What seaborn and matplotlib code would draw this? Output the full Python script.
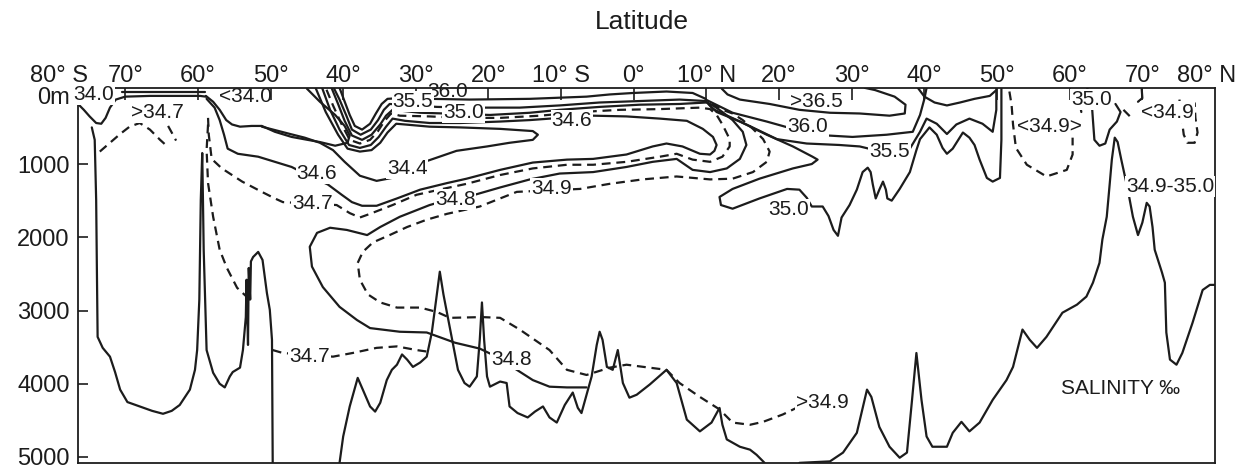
import matplotlib
matplotlib.use("Agg")
import matplotlib.pyplot as plt
import seaborn as sns
import pandas as pd

# ---------------- data: (latitude [deg, S negative], depth [m]) ----------------
# bottom topography
topo_south = [(-74.6,500),(-74.2,670),(-74.0,1490),(-73.9,2440),(-73.8,3360),(-73.1,3510),(-72.1,3630),
              (-71.4,3840),(-70.7,4080),(-69.7,4250),(-68.0,4310),(-66.3,4370),(-64.8,4410),(-63.6,4370),
              (-62.5,4290),(-61.1,4080),(-60.4,3810),(-60.1,3540),(-59.8,2850),(-59.7,2170),(-59.6,1490),
              (-59.4,850),(-59.3,1490),(-59.2,2170),(-58.8,3540),(-57.9,3850),(-57.0,4000),(-56.3,4050),
              (-55.6,3900),(-55.2,3840),(-54.2,3780),(-53.8,3540),(-53.4,3090),(-53.3,2580),(-53.1,3470),
              (-53.0,2420),(-52.8,2850),(-52.7,2330),(-52.4,2270),(-51.7,2200),(-51.1,2310),(-50.5,2760),
              (-50.1,2990),(-49.8,3400),(-49.7,5080)]
topo_mid = [(-40.5,5080),(-40.0,4720),(-39.1,4310),(-38.0,3920),(-37.3,4080),(-36.3,4310),(-35.6,4380),
            (-34.9,4260),(-34.0,3950),(-33.3,3810),(-32.6,3740),(-31.9,3600),(-31.2,3670),(-30.4,3770),
            (-29.4,3710),(-28.5,3630),(-27.8,3300),(-27.2,2850),(-26.7,2470),(-26.2,2780),(-25.6,3090),
            (-24.2,3810),(-23.3,3990),(-22.6,4040),(-21.6,3900),(-21.2,3400),(-20.9,2890),(-20.6,3400),
            (-20.2,3900),(-19.8,4040),(-18.4,3970),(-17.5,3990),(-17.1,4310),(-16.0,4400),(-14.6,4460),
            (-13.6,4380),(-12.5,4310),(-11.6,4460),(-10.6,4530),(-9.5,4290),(-8.4,4120),(-7.7,4330),
            (-7.2,4400),(-6.5,4150),(-5.8,3900),(-5.1,3470),(-4.7,3290),(-4.3,3400),(-3.7,3770),
            (-2.9,3810),(-2.2,3540),(-1.5,3990),(-0.6,4190),(0.4,4150),(2.2,4010),(4.5,3810),(5.9,3990),
            (7.3,4490),(9.1,4650),(10.7,4530),(11.8,4330),(12.2,4560),(12.8,4760),(14.6,4860),(16.0,4900),
            (16.9,4970),(18.0,5080)]
topo_north = [(22.8,5080),(27.0,5060),(28.8,4940),(30.7,4670),(32.1,4080),(32.7,4180),(33.8,4590),
              (35.2,4860),(36.6,5010),(37.6,4940),(38.3,4220),(38.9,3580),(39.6,4220),(40.3,4720),
              (41.1,4860),(43.1,4860),(43.9,4670),(45.1,4520),(46.2,4650),(47.6,4530),(49.4,4220),
              (51.3,3950),(52.2,3770),(53.5,3260),(54.5,3400),(55.5,3510),(56.8,3360),(59.0,3030),
              (61.0,2920),(62.3,2810),(63.2,2620),(64.1,2350),(64.5,2030),(65.1,1720),(65.5,1280),
              (65.8,940),(66.2,640),(66.6,700),(67.1,940),(68.0,1350),(68.7,1720),(69.4,1970),(70.0,1800),
              (70.6,1530),(71.0,1580),(71.4,1860),(71.7,2170),(72.7,2480),(73.1,2620),(73.3,3300),
              (73.8,3670),(74.7,3740),(75.5,3580),(76.9,3170),(78.3,2720),(79.3,2650),(79.9,2650)]

# near-Antarctic surface features
surface_ice = [(-70.5,10),(-59.0,10)]
s340_antarctic = [(-76.5,180),(-75.7,260),(-74.9,350),(-74.0,440),(-73.3,450),(-72.7,370),(-72.1,230),
                  (-71.3,120),(-70.0,80),(-66.6,70),(-59.7,70),(-58.9,80)]
s347_dome = [(-73.5,830),(-72.1,710),(-70.7,590),(-69.4,490),(-68.0,440),(-66.6,530),(-65.2,670),(-64.2,760)]
s347_arc = [(-64.1,480),(-63.6,570),(-63.0,680)]

# salinity isolines (solid)
s340 = [(-58.9,70),(-57.9,150),(-57.0,260),(-56.1,400),(-55.3,460),(-54.2,490),(-52.6,480),(-51.2,480),
        (-49.4,560),(-47.1,630),(-44.9,670),(-43.2,700),(-41.1,750),(-39.4,710),(-39.1,610),(-39.8,480),
        (-41.1,330),(-43.2,150),(-45.0,-30)]
s344 = [(-51.2,490),(-47.3,590),(-45.3,640),(-43.2,710),(-41.4,810),(-39.8,970),(-37.7,1160),(-35.4,1230),
        (-33.3,1190),(-31.2,1090),(-28.5,960),(-24.4,820),(-20.2,760),(-17.1,710),(-13.9,670),(-13.2,600),
        (-13.9,550),(-18.4,520),(-23.9,500),(-28.1,490),(-31.5,460),(-32.7,450),(-33.9,570),(-34.9,710),
        (-36.1,810),(-37.7,830),(-39.4,790),(-40.7,600),(-42.4,290),(-43.8,-40)]
s346 = [(-58.8,110),(-57.7,230),(-57.0,400),(-56.4,600),(-55.9,790),(-54.5,860),(-51.7,900),(-49.4,970),
        (-47.1,1040),(-44.9,1150),(-42.1,1280),(-40.2,1420),(-38.8,1520),(-37.4,1570),(-35.4,1570),
        (-32.6,1470),(-29.4,1350),(-25.7,1260),(-23.0,1200),(-18.4,1080),(-13.9,980),(-9.2,940),(-5.6,930),
        (-1.0,870),(2.6,760),(4.5,720),(6.7,760),(9.1,860),(10.5,870),(11.1,820),(11.4,740),(10.9,630),
        (9.5,520),(7.3,410),(3.6,380),(-1.0,350),(-5.6,340),(-10.2,370),(-14.3,400),(-18.4,420),
        (-23.9,440),(-28.1,440),(-31.5,410),(-33.2,380),(-34.1,490),(-35.1,630),(-36.2,740),(-37.7,780),
        (-39.2,740),(-40.5,530),(-41.8,260),(-42.9,-40)]
s348 = [(9.9,150),(10.9,200),(12.2,290),(13.6,400),(15.0,560),(15.5,740),(14.6,930),(12.8,1060),(10.5,1110),
        (8.1,1080),(5.9,930),(2.6,970),(-1.0,1040),(-5.6,1110),(-10.2,1130),(-14.3,1210),(-18.4,1320),
        (-21.9,1420),(-24.9,1470),(-28.1,1560),(-32.2,1720),(-34.9,1860),(-36.7,1970),(-39.5,1900),
        (-41.8,1870),(-43.6,1940),(-44.6,2130),(-44.3,2400),(-42.8,2680),(-40.5,2950),(-38.1,3130),
        (-36.3,3240),(-32.2,3290),(-28.5,3300),(-24.6,3440),(-21.2,3520),(-19.1,3620),(-16.1,3810),
        (-13.9,3950),(-11.6,4040),(-9.2,4050),(-6.5,4050)]
s360 = [(9.9,110),(8.1,30),(4.5,10),(-0.1,30),(-3.3,50),(-6.5,80),(-14.3,110),(-22.6,120),(-28.1,110),
        (-32.2,100),(-33.9,110),(-34.7,180),(-35.5,310),(-36.3,450),(-37.4,530),(-38.4,480),(-39.1,330),
        (-39.9,120),(-40.5,-40)]
s355 = [(9.9,140),(6.3,120),(0.8,140),(-4.7,160),(-10.2,200),(-15.7,230),(-22.6,230),(-27.1,220),
        (-32.2,190),(-33.6,180),(-34.4,260),(-35.2,400),(-36.2,530),(-37.6,600),(-38.8,530),(-39.6,330),
        (-40.5,120),(-41.3,-40)]
s350 = [(10.0,160),(6.3,180),(0.8,190),(-4.7,220),(-10.2,260),(-14.3,300),(-19.8,330),(-26.0,310),
        (-29.4,300),(-33.2,260),(-34.1,340),(-34.9,460),(-36.1,600),(-37.4,670),(-38.8,610),(-39.8,410),
        (-40.7,180),(-41.6,-40)]
s365_n = [(12.1,-30),(12.9,50),(14.6,120),(18.7,180),(22.8,260),(27.0,300),(31.1,310),(35.2,340),
          (37.3,310),(37.4,190),(35.9,80),(33.2,-10),(31.8,-40)]
s360_n = [(9.9,120),(13.6,300),(18.3,420),(21.9,520),(26.6,610),(30.1,630),(34.8,600),(38.4,560),
          (39.4,330),(40.0,110),(40.3,-40)]
s360_loop = [(39.1,-40),(40.0,80),(41.4,160),(43.1,200),(44.9,160),(46.9,110),(49.0,70),(49.8,0)]
s355_n = [(10.0,150),(10.9,250),(15.5,460),(19.7,660),(23.8,720),(28.3,740),(31.1,760),(33.2,810),
          (38.0,790),(39.4,560),(40.3,380),(41.7,450),(43.1,590),(44.4,460),(46.2,380),(48.0,450),
          (49.4,560),(49.9,260),(49.9,-40)]
s350_n = [(10.3,180),(11.4,290),(14.6,420),(18.3,600),(21.9,760),(24.6,900),(25.3,940),(24.5,1000),
          (21.9,1060),(17.3,1200),(13.6,1340),(11.8,1450),(12.0,1560),(13.6,1610),(17.3,1470),
          (21.1,1340),(22.8,1350),(23.8,1460),(24.5,1580),(26.0,1580),(26.8,1710),(27.5,1900),
          (28.1,1980),(28.6,1730),(29.7,1560),(30.7,1350),(31.5,1110),(32.2,1050),(32.6,1110),
          (32.9,1280),(33.3,1470),(33.8,1350),(34.3,1240),(34.7,1350),(34.9,1470),(35.5,1500),
          (36.6,1340),(38.0,1110),(38.9,810),(39.4,660),(40.7,500),(41.7,600),(42.5,780),(43.1,860),
          (43.9,790),(45.3,570),(46.2,640),(46.9,740),(47.6,940),(48.6,1190),(49.4,1240),(50.4,1190),
          (50.6,670),(50.6,-40)]
s350_finger = [(62.4,-40),(63.0,120),(63.2,400),(63.4,670),(64.1,750),(64.9,720),(65.5,530),(66.5,420),
               (67.0,290),(66.3,180)]
s350_bit = [(61.3,120),(61.6,290)]
s349_hook = [(69.9,-40),(70.0,100),(69.4,150)]

# salinity isolines (dashed)
s347 = [(-58.6,370),(-58.5,600),(-58.1,930),(-56.7,1060),(-55.3,1150),(-53.9,1240),(-51.2,1380),(-49.4,1470),
        (-48.3,1520),(-40.9,1560),(-39.1,1670),(-37.7,1730),(-36.3,1680),(-33.2,1560),(-29.9,1420),
        (-26.3,1340),(-23.0,1270),(-18.4,1150),(-13.9,1060),(-9.2,1010),(-5.6,1010),(-1.0,970),(3.6,900),
        (5.9,860),(8.1,940),(10.5,970),(12.2,900),(13.2,760),(13.2,660),(12.2,460),(11.4,330),(10.5,250),
        (9.1,230),(3.6,250),(-1.9,260),(-7.4,290),(-12.9,340),(-18.4,370),(-23.9,370),(-28.1,350),
        (-32.2,340),(-33.4,310),(-34.3,410),(-35.2,550),(-36.3,670),(-37.7,720),(-39.1,670),(-40.2,460),
        (-41.4,200),(-42.4,-40)]
s347_deep_a = [(-58.6,460),(-58.8,810),(-58.6,1260),(-57.9,1720),(-57.0,2170),(-56.0,2420),(-54.6,2690),
               (-53.3,2810)]
s347_deep_b = [(-49.7,3540),(-48.3,3580),(-41.4,3630),(-38.7,3580),(-35.4,3510),(-32.6,3490),(-29.9,3540),
               (-28.5,3560)]
s349 = [(10.7,180),(12.2,260),(13.6,310),(15.0,400),(16.4,520),(17.8,660),(18.7,830),(18.3,970),(16.4,1110),
        (13.6,1200),(10.5,1210),(5.9,1170),(1.2,1210),(-3.3,1270),(-7.4,1340),(-16.1,1380),(-18.4,1470),
        (-21.2,1580),(-23.9,1640),(-25.7,1680),(-28.5,1760),(-31.2,1860),(-33.6,1970),(-35.9,2070),
        (-37.3,2200),(-38.0,2350),(-37.7,2580),(-36.6,2780),(-34.9,2890),(-32.6,2960),(-29.4,2960),
        (-27.1,3020),(-25.3,3100),(-20.9,3090),(-18.4,3100),(-15.7,3260),(-11.6,3540),(-9.2,3810),
        (-6.5,3880),(-3.3,3780),(-1.0,3740),(4.5,3810),(6.3,3990),(9.1,4180),(11.8,4350),(13.6,4530),
        (16.0,4560),(17.8,4520),(20.5,4420),(22.8,4310)]
s349_ne = [(51.7,10),(52.0,190),(52.2,460),(52.6,780),(54.1,1010),(56.8,1170),(59.6,1080),(60.4,870),(60.4,640)]
s349_bit = [(67.4,260),(68.3,350)]
s349_nn = [(75.1,120),(75.4,370),(75.7,600),(76.2,710),(77.2,710),(77.6,570),(77.3,370),(77.2,160)]

# text
x_tick_pos = [-70, -60, -50, -40, -30, -20, -10, 0, 10, 20, 30, 40, 50, 60, 70]
x_tick_lab = ["70°", "60°", "50°", "40°", "30°", "20°", "10° S", "0°", "10° N",
              "20°", "30°", "40°", "50°", "60°", "70°"]
x_end_labels = [(-79.1, "80° S"), (78.8, "80° N")]
y_tick_pos = [1000, 2000, 3000, 4000, 5000]
y_tick_lab = ["1000", "2000", "3000", "4000", "5000"]
contour_labels = [  # (text, lat, depth, masks line)
    ("34.0", -74.4, 55, True), (">34.7", -65.6, 290, True), ("<34.0", -53.5, 80, False),
    ("36.0", -25.6, 10, False), ("35.5", -30.4, 150, True), ("35.0", -23.4, 300, True),
    ("34.6", -8.5, 410, True), ("34.6", -43.6, 1130, True), ("34.4", -31.2, 1060, True),
    ("34.7", -44.2, 1540, True), ("34.8", -24.6, 1490, True), ("34.9", -11.3, 1340, True),
    ("35.0", 21.3, 1620, True), (">36.5", 25.2, 150, False), ("36.0", 23.9, 490, True),
    ("35.5", 35.2, 830, True), ("<34.9>", 57.2, 490, True), ("35.0", 63.0, 120, True),
    ("<34.9", 73.5, 290, True), ("34.9-35.0", 73.8, 1310, True), ("34.7", -44.6, 3630, True),
    ("34.8", -16.8, 3670, True), (">34.9", 25.9, 4250, True),
]
note_text, note_lat, note_dep = "SALINITY ‰", 67.0, 4070
title_text = "Latitude"

solid_lines = [topo_south, topo_mid, topo_north, surface_ice, s340_antarctic, s340, s344, s346, s348,
               s360, s355, s350, s365_n, s360_n, s360_loop, s355_n, s350_n, s350_finger, s350_bit, s349_hook]
dashed_lines = [s347_dome, s347_arc, s347, s347_deep_a, s347_deep_b, s349, s349_ne, s349_bit, s349_nn]

# ---------------- drawing ----------------
INK = "#1c1c1c"
sns.set_theme(style="white")
plt.rcParams['font.family'] = ['Liberation Sans', 'DejaVu Sans']

fig = plt.figure(figsize=(12.39, 4.69), dpi=100)
ax = fig.add_axes([78 / 1239, 6 / 469, 1137 / 1239, 375 / 469])

def draw(points, dashed):
    df = pd.DataFrame(points, columns=["lat", "depth"])
    ls = (0, (4, 2.6)) if dashed else "-"
    sns.lineplot(data=df, x="lat", y="depth", sort=False, estimator=None, ax=ax,
                 color=INK, linewidth=1.6, linestyle=ls, legend=False)

for pts in solid_lines:
    draw(pts, False)
for pts in dashed_lines:
    draw(pts, True)

ax.set_xlim(-76.5, 80)
ax.set_ylim(5082, -38)
ax.set_xlabel("")
ax.set_ylabel("")
ax.grid(False)
for sp in ax.spines.values():
    sp.set_color(INK)
    sp.set_linewidth(1.3)

ax.set_xticks(x_tick_pos)
ax.set_xticklabels(x_tick_lab)
ax.xaxis.tick_top()
ax.tick_params(axis="x", top=True, bottom=False, labeltop=True, labelbottom=False,
               direction="in", length=8.5, width=1.2, pad=1, labelsize=17, colors=INK)
ax.set_yticks(y_tick_pos)
ax.set_yticklabels(y_tick_lab)
ax.tick_params(axis="y", left=True, right=False, direction="in", length=7, width=1.2,
               pad=6, labelsize=17, colors=INK)

for lat, s in x_end_labels:
    ax.annotate(s, xy=(lat, 1), xycoords=("data", "axes fraction"), xytext=(0, 1),
                textcoords="offset points", ha="center", va="bottom", fontsize=17,
                color=INK, annotation_clip=False)
ax.annotate("0m", xy=(0, 96), xycoords=("axes fraction", "data"), xytext=(-6, 0),
            textcoords="offset points", ha="right", va="center", fontsize=17, color=INK,
            annotation_clip=False)

for s, lat, dep, mask in contour_labels:
    kw = dict(bbox=dict(boxstyle="square,pad=0.05", fc="white", ec="none")) if mask else {}
    ax.text(lat, dep, s, ha="center", va="center", fontsize=15, color=INK, zorder=5,
            clip_on=False, **kw)
ax.text(note_lat, note_dep, note_text, ha="center", va="center", fontsize=15, color=INK, zorder=5)

fig.text(642 / 1239, 1 - 22 / 469, title_text, ha="center", va="center", fontsize=19, color=INK)

fig.savefig("out.png", dpi=100, facecolor="white")
